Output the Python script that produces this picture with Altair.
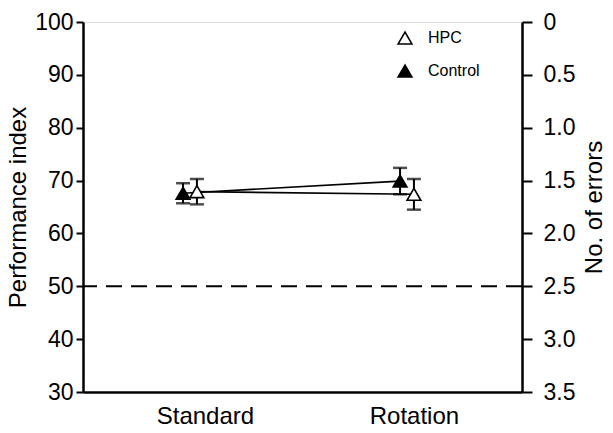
import altair as alt
import pandas as pd

groups = ["Control", "Control", "HPC", "HPC"]
conditions = ["Standard", "Rotation", "Standard", "Rotation"]
pi_mean = [67.6, 69.9, 67.9, 67.4]
pi_sem = [1.9, 2.5, 2.4, 2.9]
chance_level = 50
pi_ticks = [30, 40, 50, 60, 70, 80, 90, 100]
err_ticks = [0, 0.5, 1.0, 1.5, 2.0, 2.5, 3.0, 3.5]

cond_pos = {"Standard": 0.0, "Rotation": 1.0}
grp_off = {"Control": -0.032, "HPC": 0.032}

df = pd.DataFrame({
    "group": groups,
    "condition": conditions,
    "mean": pi_mean,
    "sem": pi_sem,
})
df["x"] = [cond_pos[c] + grp_off[g] for c, g in zip(conditions, groups)]
df["lo"] = df["mean"] - df["sem"]
df["hi"] = df["mean"] + df["sem"]

FONT = "Liberation Sans"
xscale = alt.Scale(domain=[-0.493, 1.53], nice=False, zero=False)
yscale = alt.Scale(domain=[30, 100], nice=False, zero=False)
yaxis = alt.Axis(
    title="Performance index", values=pi_ticks,
    grid=False, domainColor="black", domainWidth=2.5, tickColor="black",
    tickWidth=2, tickSize=7, labelFontSize=23, labelFont=FONT, labelColor="black",
    labelPadding=3, titleFontSize=24, titleFont=FONT, titleFontWeight="normal",
    titleColor="black", titleX=-65, titleY=185, titleBaseline="middle",
    titleAlign="center", titleAngle=270,
)
xaxis = alt.Axis(
    title=None, values=[0.069, 1.032],
    labelExpr="datum.value < 0.5 ? 'Standard' : 'Rotation'",
    grid=False, ticks=False, domainColor="black", domainWidth=2.5,
    labelFontSize=24, labelFont=FONT, labelColor="black", labelPadding=12,
)

X = alt.X("x:Q", scale=xscale, axis=xaxis)

lines = alt.Chart(df).mark_line(color="black", strokeWidth=1.6).encode(
    x=X, y=alt.Y("mean:Q", scale=yscale, axis=yaxis), detail="group:N"
)
rules = alt.Chart(df).mark_rule(color="black", strokeWidth=2).encode(
    x=X, y=alt.Y("lo:Q", scale=yscale, axis=yaxis), y2="hi:Q"
)
cap_lo = alt.Chart(df).mark_tick(color="black", orient="horizontal", size=14, thickness=2.5).encode(
    x=X, y=alt.Y("lo:Q", scale=yscale, axis=yaxis)
)
cap_hi = alt.Chart(df).mark_tick(color="black", orient="horizontal", size=14, thickness=2.5).encode(
    x=X, y=alt.Y("hi:Q", scale=yscale, axis=yaxis)
)
dash = alt.Chart(pd.DataFrame({"v": [chance_level]})).mark_rule(
    color="black", strokeWidth=2, strokeDash=[16, 9]
).encode(y=alt.Y("v:Q", scale=yscale, axis=yaxis))

points = alt.Chart(df).mark_point(
    shape="triangle-up", filled=True, size=190, stroke="black", strokeWidth=1.6, opacity=1
).encode(
    x=X,
    y=alt.Y("mean:Q", scale=yscale, axis=yaxis),
    fill=alt.Fill(
        "group:N",
        scale=alt.Scale(domain=["HPC", "Control"], range=["white", "black"]),
        legend=alt.Legend(
            title=None, orient="none", legendX=314, legendY=8,
            symbolType="triangle-up", symbolSize=190, symbolStrokeColor="black",
            symbolStrokeWidth=1.6, labelFontSize=16, labelFont=FONT,
            labelColor="black", rowPadding=13, labelOffset=15,
        ),
    ),
)

left = alt.layer(dash, lines, rules, cap_lo, cap_hi, points)

right = alt.Chart(pd.DataFrame({"e": err_ticks})).mark_point(opacity=0).encode(
    x=X,
    y=alt.Y(
        "e:Q",
        scale=alt.Scale(domain=[0, 3.5], reverse=True, nice=False, zero=False),
        axis=alt.Axis(
            orient="right", title="No. of errors", values=err_ticks,
            labelExpr="datum.value == 0 ? '0' : format(datum.value, '.1f')",
            grid=False, domainColor="black", domainWidth=2.5, tickColor="black",
            tickWidth=2, tickSize=10, labelFontSize=23, labelFont=FONT,
            labelColor="black", labelPadding=11, titleFontSize=24, titleFont=FONT,
            titleFontWeight="normal", titleColor="black", titleAngle=270,
            titleX=72, titleY=185, titleBaseline="middle", titleAlign="center",
        ),
    ),
)

chart = alt.layer(left, right).resolve_scale(y="independent").properties(
    width=439, height=370,
    autosize=alt.AutoSizeParams(type="none"),
    padding={"left": 83, "top": 22, "right": 91, "bottom": 41},
).configure_view(stroke=None).configure(background="white")

chart.save("out.html", embed_options={"renderer": "svg", "actions": False})
